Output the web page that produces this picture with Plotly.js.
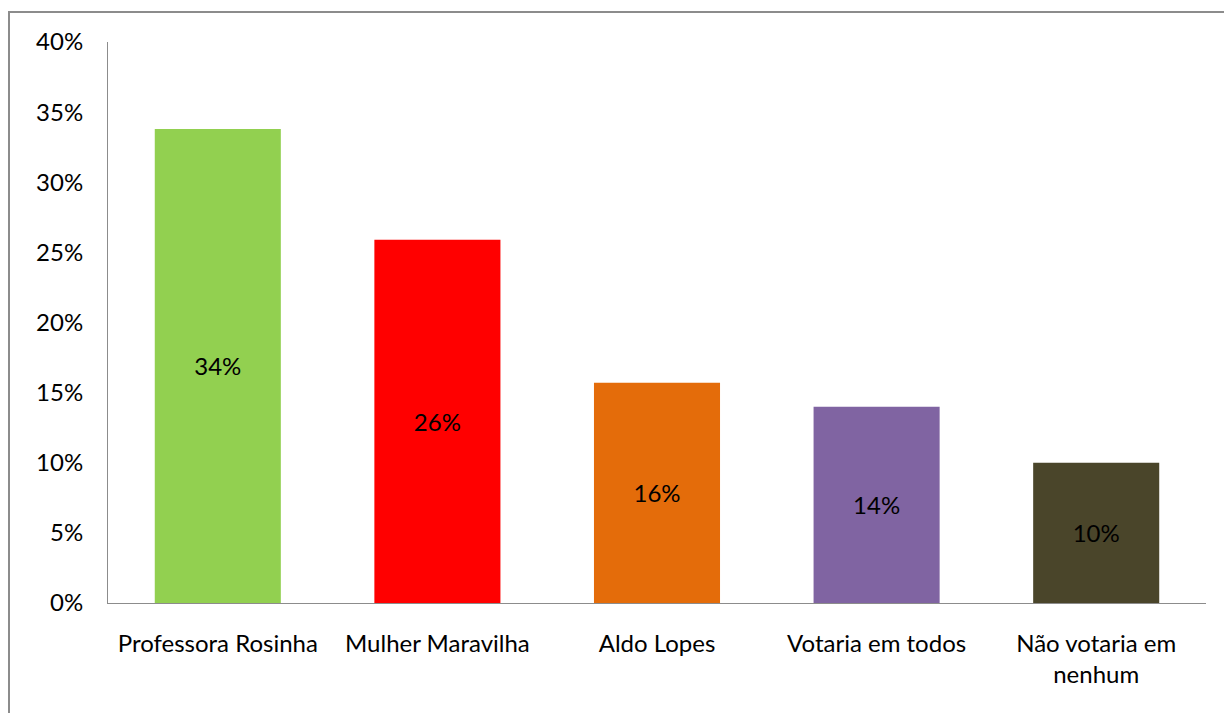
<!DOCTYPE html>
<html lang="pt">
<head>
    <meta charset="UTF-8">
    <title>Intenção de voto</title>
    <script src="https://cdn.plot.ly/plotly-3.0.1.min.js"></script>
    <style>
        body { margin: 0; background: #fff; overflow: hidden; }
        #chart { position: absolute; left: 0; top: 0; width: 1224px; height: 713px; }
        #frame {
            position: absolute; left: 8px; top: 11px;
            width: 1230px; height: 720px;
            border: 2px solid #8c8c8c;
            pointer-events: none;
        }
    </style>
</head>
<body>
    <div id="chart"></div>
    <div id="frame"></div>

    <script>
        // dados
        const candidatos = ['Professora Rosinha', 'Mulher Maravilha', 'Aldo Lopes', 'Votaria em todos', 'Não votaria em<br>nenhum'];
        const percentuais = [0.338, 0.259, 0.157, 0.140, 0.100];
        const cores = ['#92D050', '#FF0000', '#E46C0A', '#8064A2', '#4A452A'];

        const fonte = 'Lato, Carlito, Calibri, sans-serif';

        const trace = {
            type: 'bar',
            x: candidatos,
            y: percentuais,
            marker: { color: cores },
            width: 0.574,
            texttemplate: '%{y:.0%}',
            textposition: 'inside',
            insidetextanchor: 'middle',
            textangle: 0,
            textfont: { family: fonte, size: 24, color: '#000' },
            hoverinfo: 'skip'
        };

        const layout = {
            width: 1224,
            height: 713,
            margin: { l: 108, r: 18, t: 42, b: 110 },
            paper_bgcolor: '#fff',
            plot_bgcolor: '#fff',
            showlegend: false,
            font: { family: fonte, size: 24, color: '#000' },
            xaxis: {
                range: [-0.5, 4.5],
                showline: true,
                linecolor: '#8c8c8c',
                linewidth: 1,
                showgrid: false,
                zeroline: false,
                ticks: '',
                ticklabelstandoff: 19,
                tickfont: { family: fonte, size: 24, color: '#000' }
            },
            yaxis: {
                range: [0, 0.4],
                dtick: 0.05,
                tickformat: '.0%',
                showline: true,
                linecolor: '#8c8c8c',
                linewidth: 1,
                showgrid: false,
                zeroline: false,
                ticks: '',
                ticklabelstandoff: 19,
                tickfont: { family: fonte, size: 24, color: '#000' }
            }
        };

        Plotly.newPlot('chart', [trace], layout, { displayModeBar: false, staticPlot: true });
    </script>
</body>
</html>
